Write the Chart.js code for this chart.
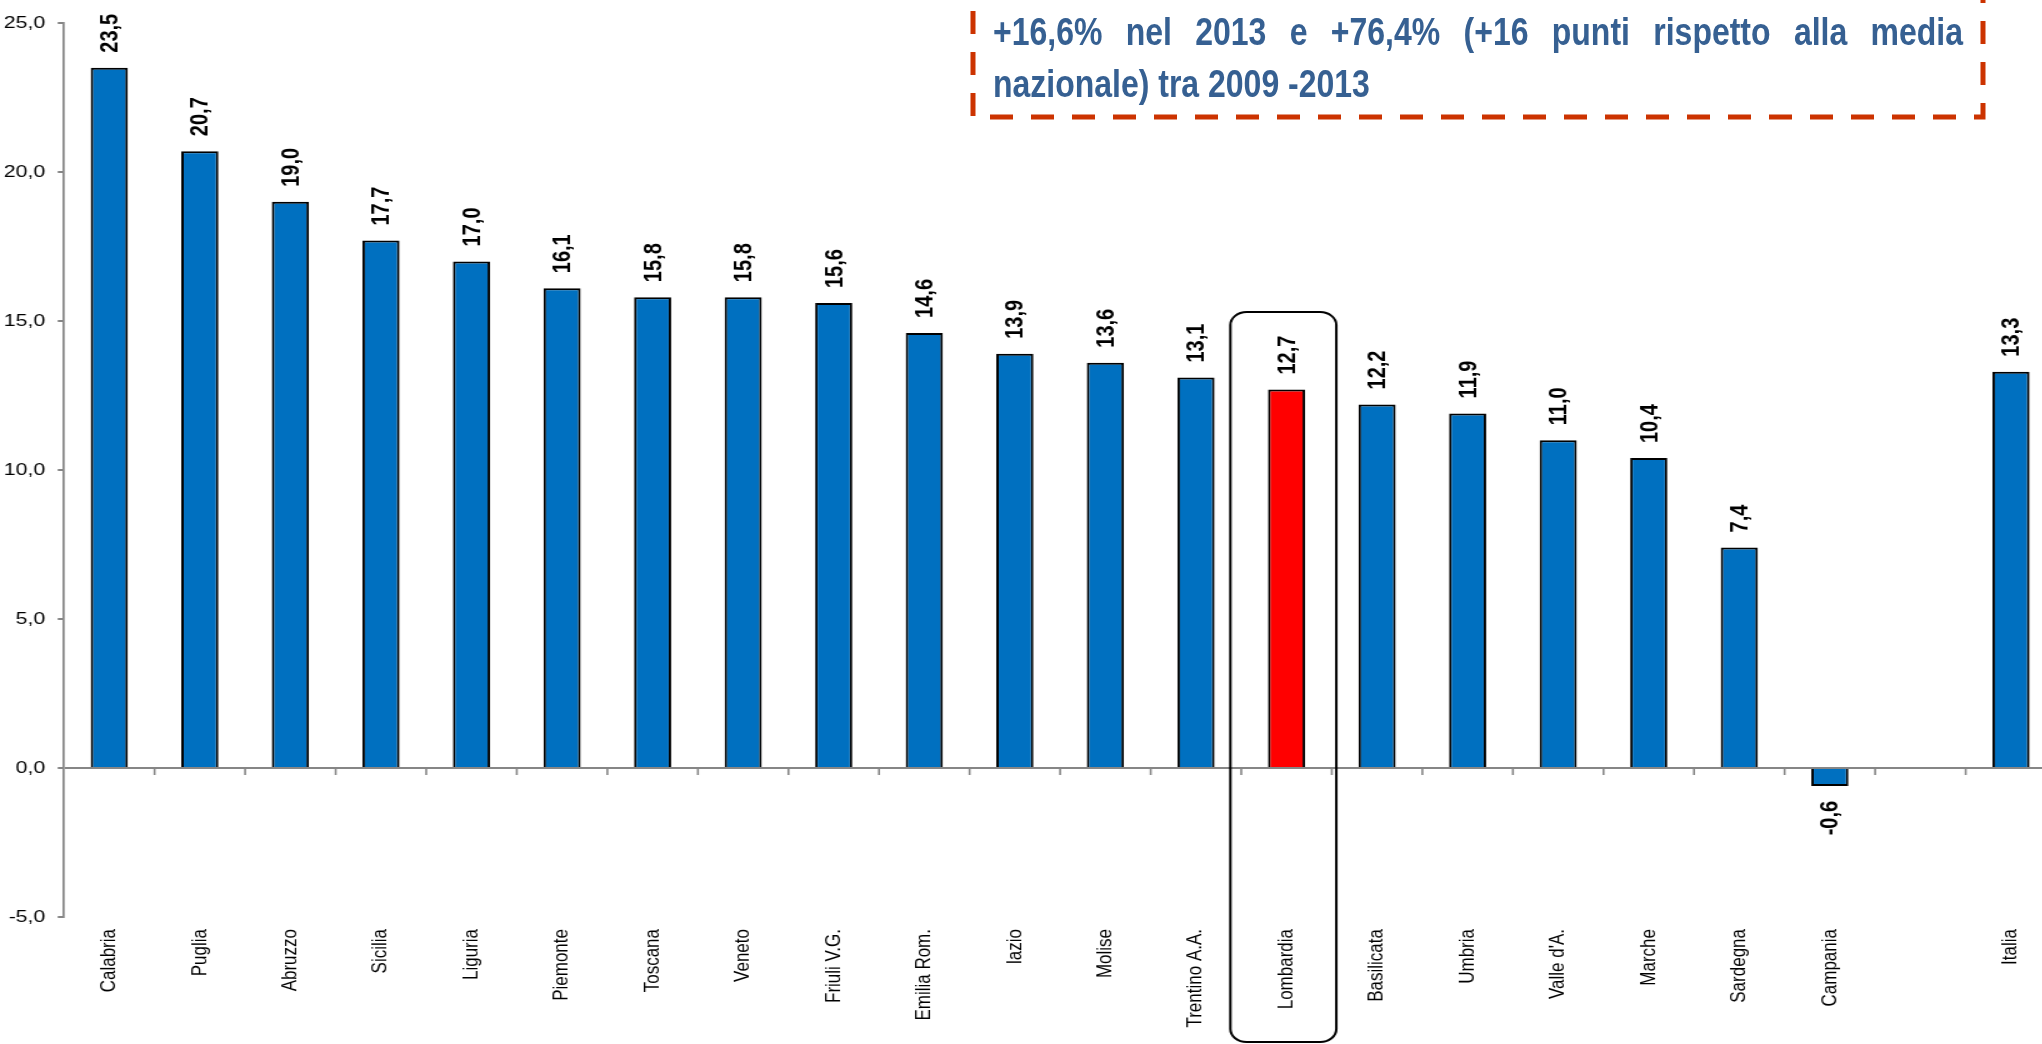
<!DOCTYPE html>
<html>
<head>
<meta charset="utf-8">
<script src="https://cdn.jsdelivr.net/npm/chart.js@4"></script>
<style>
  html, body { margin: 0; padding: 0; background: #fff; overflow: hidden; }
  #wrap { position: relative; width: 2057px; height: 1044px; }
  /* the source picture is stretched sideways, so the chart is too */
  #stretch { position: absolute; left: 0; top: 0; width: 1645px; height: 1044px;
             transform: scaleX(1.25); transform-origin: 0 0; }
  #note { position: absolute; left: 0; top: 0; }
</style>
</head>
<body>
<div id="wrap">
  <div id="stretch"><canvas id="growthChart" width="1645" height="1044"></canvas></div>
  <canvas id="note" width="2042" height="140"></canvas>
</div>
<script>
// ## DATA ##
const regions = [
  "Calabria", "Puglia", "Abruzzo", "Sicilia", "Liguria", "Piemonte", "Toscana",
  "Veneto", "Friuli V.G.", "Emilia Rom.", "lazio", "Molise", "Trentino A.A.",
  "Lombardia", "Basilicata", "Umbria", "Valle d'A.", "Marche", "Sardegna",
  "Campania", "", "Italia",
];
const growth = [
  23.5, 20.7, 19.0, 17.7, 17.0, 16.1, 15.8, 15.8, 15.6, 14.6, 13.9, 13.6, 13.1,
  12.7, 12.2, 11.9, 11.0, 10.4, 7.4, -0.6, null, 13.3,
];
const highlightRegion = "Lombardia";
const noteLines = [
  "+16,6% nel 2013 e +76,4% (+16 punti rispetto alla media",
  "nazionale) tra 2009 -2013",
];

const fmt = (v) => v.toFixed(1).replace(".", ",");
const axisGrey = "#868686";
const baseFont = '"Liberation Sans", Arial, sans-serif';

// value labels above (or below) every bar, rotated
const barLabels = {
  id: "barLabels",
  afterDatasetsDraw(chart) {
    const ctx = chart.ctx;
    const meta = chart.getDatasetMeta(0);
    ctx.save();
    ctx.font = "bold 20px " + baseFont;
    ctx.fillStyle = "#000";
    ctx.textBaseline = "middle";
    meta.data.forEach((bar, i) => {
      const v = growth[i];
      if (v === null) return;
      ctx.save();
      ctx.translate(bar.x, v >= 0 ? bar.y - 15 : bar.y + 15);
      ctx.rotate(-Math.PI / 2);
      ctx.textAlign = v >= 0 ? "left" : "right";
      ctx.fillText(fmt(v), 0, 1);
      ctx.restore();
    });
    ctx.restore();
  },
};

// tick marks under the zero line and the rounded box round Lombardia
const extras = {
  id: "extras",
  afterDraw(chart) {
    const ctx = chart.ctx;
    const x = chart.scales.x;
    const y = chart.scales.y;
    const zeroY = y.getPixelForValue(0);
    const slot = (x.right - x.left) / regions.length;

    ctx.save();
    ctx.strokeStyle = axisGrey;
    ctx.lineWidth = 1.6;
    for (let i = 1; i < regions.length; i++) {
      const px = x.left + i * slot;
      ctx.beginPath();
      ctx.moveTo(px, zeroY);
      ctx.lineTo(px, zeroY + 7);
      ctx.stroke();
    }

    const hi = regions.indexOf(highlightRegion);
    const left = x.left + hi * slot - 0.12 * slot;
    const right = x.left + (hi + 1) * slot + 0.05 * slot;
    const top = y.getPixelForValue(15.3);
    const bottom = chart.height - 2;
    ctx.strokeStyle = "#000";
    ctx.lineWidth = 2;
    ctx.beginPath();
    ctx.roundRect(left, top, right - left, bottom - top, 13);
    ctx.stroke();
    ctx.restore();
  },
};

const ctx = document.getElementById("growthChart").getContext("2d");
window.growthChart = new Chart(ctx, {
  type: "bar",
  data: {
    labels: regions,
    datasets: [
      {
        label: "Crescita",
        data: growth,
        backgroundColor: regions.map((r) => (r === highlightRegion ? "#FF0000" : "#0070C0")),
        borderColor: "#000",
        borderWidth: 2,
        barPercentage: 0.41,
        categoryPercentage: 1,
      },
    ],
  },
  options: {
    responsive: false,
    animation: false,
    devicePixelRatio: 1,
    layout: { padding: { top: 23, right: 0, bottom: 0, left: 0 } },
    plugins: {
      legend: { display: false },
      tooltip: { enabled: false },
    },
    scales: {
      y: {
        min: -5,
        max: 25,
        ticks: {
          stepSize: 5,
          color: "#000",
          padding: 10,
          font: { family: baseFont, size: 17 },
          callback: (v) => fmt(v),
        },
        border: { display: true, color: axisGrey, width: 1.7 },
        grid: {
          color: (c) => (c.tick && c.tick.value === 0 ? axisGrey : "rgba(0,0,0,0)"),
          tickColor: axisGrey,
          tickLength: 5,
          lineWidth: 2,
        },
        afterFit: (scale) => { scale.width = 51.2; },
      },
      x: {
        offset: true,
        ticks: {
          color: "#000",
          autoSkip: false,
          maxRotation: 90,
          minRotation: 90,
          padding: 12,
          font: { family: baseFont, size: 17 },
        },
        border: { display: false },
        grid: { display: false, drawTicks: false },
        afterFit: (scale) => { scale.height = 127; },
      },
    },
  },
  plugins: [barLabels, extras],
});

// ## NOTE BOX (dashed, top right) ##
function drawNote() {
  const nctx = document.getElementById("note").getContext("2d");
  nctx.fillStyle = "#fff";
  nctx.fillRect(973, 0, 1010, 117);
  nctx.strokeStyle = "#CC3300";
  nctx.lineWidth = 5;
  nctx.setLineDash([23, 18]);
  nctx.beginPath();
  nctx.moveTo(973, -30);
  nctx.lineTo(973, 117);
  nctx.lineTo(1983, 117);
  nctx.lineTo(1983, -30);
  nctx.stroke();
  nctx.setLineDash([]);

  // condensed bold face; squeeze the normal one if the narrow one is missing
  const probe = "nazionale) tra 2009 -2013";
  nctx.font = 'bold 39px "Liberation Sans Narrow", monospace';
  const wNarrow = nctx.measureText(probe).width;
  nctx.font = "bold 39px monospace";
  const wMono = nctx.measureText(probe).width;
  let sx = 1;
  if (Math.abs(wNarrow - wMono) < 0.5) {
    nctx.font = "bold 39px " + baseFont;
    sx = 0.82;
  } else {
    nctx.font = 'bold 39px "Liberation Sans Narrow", sans-serif';
  }
  nctx.fillStyle = "#366092";
  nctx.textAlign = "left";
  nctx.textBaseline = "alphabetic";
  const textLeft = 993;
  const textRight = 1963;
  const baselines = [45, 97];
  noteLines.forEach((line, li) => {
    nctx.save();
    nctx.translate(textLeft, baselines[li]);
    nctx.scale(sx, 1);
    if (li < noteLines.length - 1) {
      const words = line.split(" ");
      const widths = words.map((w) => nctx.measureText(w).width);
      const total = widths.reduce((a, b) => a + b, 0);
      const gap = ((textRight - textLeft) / sx - total) / (words.length - 1);
      let cx = 0;
      words.forEach((w, wi) => {
        nctx.fillText(w, cx, 0);
        cx += widths[wi] + gap;
      });
    } else {
      nctx.fillText(line, 0, 0);
    }
    nctx.restore();
  });
}
drawNote();
</script>
</body>
</html>
